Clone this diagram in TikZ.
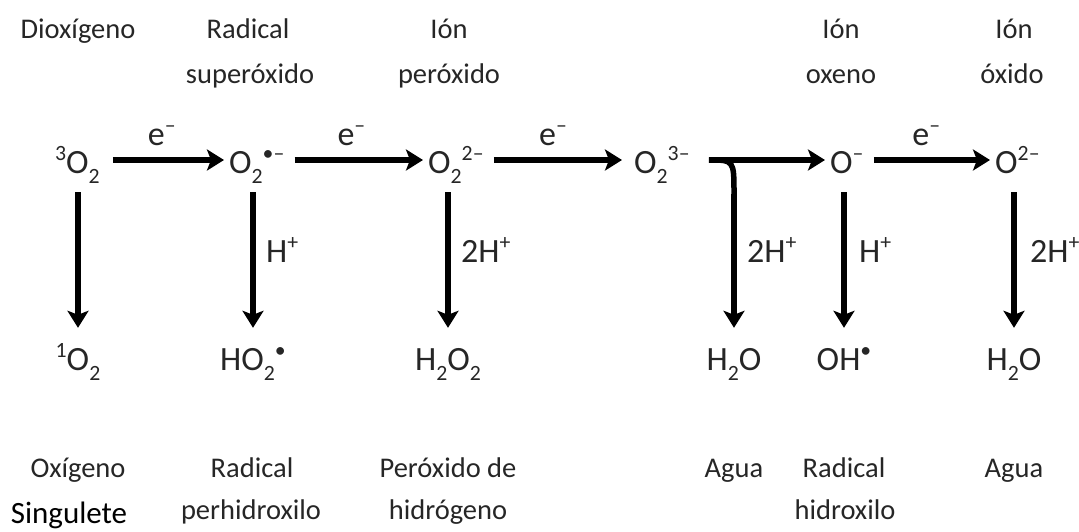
\documentclass[tikz,border=0pt]{standalone}
\usepackage{fontspec}
\setmainfont{Carlito}
\usetikzlibrary{arrows.meta}
\definecolor{txt}{HTML}{262626}
\newcommand{\spx}[1]{\raisebox{0.36em}{\scalebox{0.64}{#1}}}
\newcommand{\sbx}[1]{\raisebox{-0.30em}{\scalebox{0.64}{#1}}}
\begin{document}
\begin{tikzpicture}[x=1pt,y=-1pt,
  hd/.style={font=\fontsize{28.5}{34}\selectfont, text=txt, inner sep=0pt, anchor=base},
  sp/.style={font=\fontsize{34}{40}\selectfont, text=txt, inner sep=0pt, text height=30pt, text depth=4pt},
  lb/.style={font=\fontsize{34}{40}\selectfont, text=txt, inner sep=0pt, anchor=base west},
  arr/.style={line width=5.5pt, -{Stealth[length=17pt,width=21pt,inset=4pt]}},
  ln/.style={line width=5.5pt}]
\useasboundingbox (0,0) rectangle (1079,531);
% headings
\node[hd] (h1) at (78,38) {Dioxígeno};
\node[hd] (h2a) at (248,38) {Radical};
\node[hd] (h2b) at (250,83) {superóxido};
\node[hd] (h3a) at (449,38) {Ión};
\node[hd] (h3b) at (449,83) {peróxido};
\node[hd] (h4a) at (841,38) {Ión};
\node[hd] (h4b) at (841,83) {oxeno};
\node[hd] (h5a) at (1014,38) {Ión};
\node[hd] (h5b) at (1012,83) {óxido};
% top species
\node[sp, anchor=base west] (a1) at (55,173) {\spx{3}O\sbx{2}};
\node[sp, anchor=base west] (a2) at (229,173) {O\sbx{2}\spx{•–}};
\node[sp, anchor=base west] (a3) at (428,173) {O\sbx{2}\spx{2–}};
\node[sp, anchor=base west] (a4) at (634,173) {O\sbx{2}\spx{3–}};
\node[sp, anchor=base west] (a5) at (830,173) {O\spx{–}};
\node[sp, anchor=base west] (a6) at (995,173) {O\spx{2–}};
% bottom species
\node[sp, anchor=base] (b1) at (78,370) {\spx{1}O\sbx{2}};
\node[sp, anchor=base] (b2) at (253,370) {HO\sbx{2}\spx{•}};
\node[sp, anchor=base] (b3) at (448,370) {H\sbx{2}O\sbx{2}};
\node[sp, anchor=base] (b4) at (734,370) {H\sbx{2}O};
\node[sp, anchor=base] (b5) at (844,370) {OH\spx{•}};
\node[sp, anchor=base] (b6) at (1014,370) {H\sbx{2}O};
% bottom names
\node[hd] (n1) at (78,477) {Oxígeno};
\node[hd, text=black, font=\fontsize{31}{36}\selectfont] (n1b) at (69,523) {Singulete};
\node[hd] (n2a) at (252,477) {Radical};
\node[hd] (n2b) at (251,519) {perhidroxilo};
\node[hd] (n3a) at (448,477) {Peróxido de};
\node[hd] (n3b) at (448,519) {hidrógeno};
\node[hd] (n4) at (734,477) {Agua};
\node[hd] (n5a) at (844,477) {Radical};
\node[hd] (n5b) at (845,519) {hidroxilo};
\node[hd] (n6) at (1014,477) {Agua};
% horizontal arrows
\draw[arr, shorten <=13pt, shorten >=5pt] (a1.east) -- (a2.west) node[lb, pos=0.35, yshift=15pt] (e1) {e\spx{–}};
\draw[arr, shorten <=10pt, shorten >=5pt] (a2.east) -- (a3.west) node[lb, pos=0.35, yshift=15pt] (e2) {e\spx{–}};
\draw[arr, shorten <=10pt, shorten >=12pt] (a3.east) -- (a4.west) node[lb, pos=0.35, yshift=15pt] (e3) {e\spx{–}};
\draw[arr, shorten <=19pt, shorten >=5pt] (a4.east) -- (a5.west);
\draw[arr, shorten <=10pt, shorten >=5pt] (a5.east) -- (a6.west) node[lb, pos=0.35, yshift=15pt] (e5) {e\spx{–}};
% branch
\coordinate (br) at ([xshift=19pt]a4.east);
\coordinate (bend) at ([yshift=-34pt]br -| b4.north);
\draw[ln] (br) .. controls (br -| b4.north) .. (bend);
\draw[arr, shorten >=12pt] (bend) -- (b4.north);
% vertical arrows
\draw[arr, shorten <=15pt, shorten >=12pt] (a1.south -| b1.north) -- (b1.north);
\draw[arr, shorten <=15pt, shorten >=12pt] (a2.south -| b2.north) -- (b2.north);
\draw[arr, shorten <=15pt, shorten >=12pt] (a3.south -| b3.north) -- (b3.north);
\draw[arr, shorten <=15pt, shorten >=12pt] (a5.south -| b5.north) -- (b5.north);
\draw[arr, shorten <=15pt, shorten >=12pt] (a6.south -| b6.north) -- (b6.north);
% reagent labels
\node[lb] (l2) at (266,262) {H\spx{+}};
\node[lb] (l3) at (461,262) {2H\spx{+}};
\node[lb] (l4) at (747,262) {2H\spx{+}};
\node[lb] (l5) at (859,262) {H\spx{+}};
\node[lb] (l6) at (1030,262) {2H\spx{+}};
\end{tikzpicture}
\end{document}
